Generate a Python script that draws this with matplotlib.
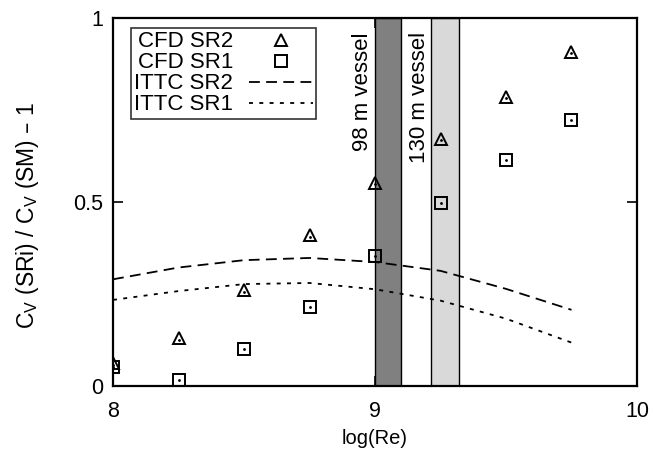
import numpy as np
import matplotlib
matplotlib.use("Agg")
import matplotlib.pyplot as plt

plt.rcParams['font.family'] = ['Liberation Sans', 'DejaVu Sans']
plt.rcParams['font.size'] = 14

# data
log_re = [8.0, 8.25, 8.5, 8.75, 9.0, 9.25, 9.5, 9.75]
cfd_sr2 = [0.062, 0.13, 0.26, 0.41, 0.553, 0.672, 0.786, 0.909]
cfd_sr1 = [0.052, 0.017, 0.10, 0.215, 0.353, 0.497, 0.614, 0.723]
ittc_sr2 = [0.290, 0.322, 0.342, 0.348, 0.337, 0.313, 0.264, 0.207]
ittc_sr1 = [0.234, 0.258, 0.277, 0.280, 0.263, 0.232, 0.183, 0.118]

vessels = ["98 m vessel", "130 m vessel"]
bands = [(9.0, 9.1), (9.215, 9.32)]
band_colors = ["#808080", "#d9d9d9"]

fig = plt.figure(figsize=(6.54, 4.63), dpi=100)
ax = fig.add_axes([0.1728, 0.1663, 0.8012, 0.7947])

# vessel bands
for (x0, x1), c, name in zip(bands, band_colors, vessels):
    ax.axvspan(x0, x1, facecolor=c, edgecolor='black', linewidth=1.0, zorder=1)
    ax.text(x0 - 0.006, 0.962, name, rotation=90, ha='right', va='top', fontsize=16, zorder=3)

# CFD points
ax.plot(log_re, cfd_sr2, linestyle='none', marker='^', markersize=8.5, markerfacecolor='none',
        markeredgecolor='black', markeredgewidth=1.4, label='CFD SR2', zorder=4)
ax.plot(log_re, cfd_sr1, linestyle='none', marker='s', markersize=9, markerfacecolor='none',
        markeredgecolor='black', markeredgewidth=1.4, label='CFD SR1', zorder=4)
# centre dots
ax.plot(log_re, np.array(cfd_sr2) - 0.004, linestyle='none', marker='.', markersize=2,
        color='black', zorder=5)
ax.plot(log_re, cfd_sr1, linestyle='none', marker='.', markersize=2, color='black', zorder=5)

# ITTC curves
ax.plot(log_re, ittc_sr2, color='black', linewidth=1.3, dashes=(6, 3.5), label='ITTC SR2', zorder=3)
ax.plot(log_re, ittc_sr1, color='black', linewidth=1.3, dashes=(2.2, 3.5), label='ITTC SR1', zorder=3)

ax.set_xlim(8, 10)
ax.set_ylim(0, 1)
ax.set_xticks([8, 9, 10])
ax.set_xticklabels(['8', '9', '10'])
ax.set_yticks([0, 0.5, 1])
ax.set_yticklabels(['0', '0.5', '1'])
ax.tick_params(direction='in', length=7, width=1.2, top=True, right=True, labelsize=15.5)
ax.tick_params(axis='x', pad=11)
ax.tick_params(axis='y', pad=7)
for s in ax.spines.values():
    s.set_linewidth(1.6)

ax.set_xlabel('log(Re)', fontsize=14.5)
ax.xaxis.set_label_coords(0.5, -0.118)
ax.set_ylabel(r'C$_\mathregular{V}$ (SRi) / C$_\mathregular{V}$ (SM) – 1', fontsize=16.5)
ax.yaxis.set_label_coords(-0.138, 0.465)

leg = ax.legend(loc='upper left', bbox_to_anchor=(0.034, 0.973), markerfirst=False, frameon=True,
                fancybox=False, edgecolor='black', borderaxespad=0, handlelength=2.9,
                handletextpad=0.7, labelspacing=0.0, borderpad=0.15, fontsize=16)
leg.get_frame().set_linewidth(1.2)
for t in leg.get_texts():
    t.set_ha('right')
leg.set_zorder(6)

fig.savefig('out.png', dpi=100)
